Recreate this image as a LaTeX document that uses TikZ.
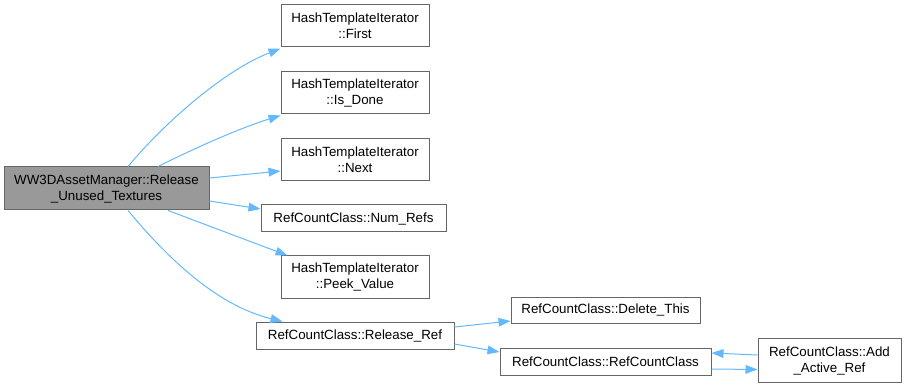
\documentclass[tikz,border=0pt]{standalone}
\usepackage{fontspec}
\setmainfont{Liberation Sans}
\usetikzlibrary{arrows.meta,calc}
\definecolor{edgeblue}{HTML}{63B8FF}
\definecolor{boxline}{HTML}{666666}
\definecolor{mainfill}{HTML}{999999}
\begin{document}
\begin{tikzpicture}[x=0.75pt,y=-0.75pt,
  fn/.style={draw=boxline,line width=0.75pt,fill=white,inner sep=0pt,align=center,
    font=\fontsize{10pt}{12pt}\selectfont},
  mainfn/.style={fn,fill=mainfill},
  call/.style={draw=edgeblue,line width=0.75pt,-{Triangle[length=9pt,width=6.5pt]},color=edgeblue}]
\useasboundingbox (0,0) rectangle (906,388);

% functions
\node[mainfn,minimum width=205*0.75pt,minimum height=43*0.75pt] (main) at (106.5,188.5)
  {WW3DAssetManager::Release\\\_Unused\_Textures};
\node[fn,minimum width=148*0.75pt,minimum height=42*0.75pt] (first) at (355,26)
  {HashTemplateIterator\\::First};
\node[fn,minimum width=148*0.75pt,minimum height=42*0.75pt] (isdone) at (355,93)
  {HashTemplateIterator\\::Is\_Done};
\node[fn,minimum width=148*0.75pt,minimum height=42*0.75pt] (next) at (355,160)
  {HashTemplateIterator\\::Next};
\node[fn,minimum width=185*0.75pt,minimum height=27*0.75pt] (numrefs) at (353.5,218.5)
  {RefCountClass::Num\_Refs};
\node[fn,minimum width=148*0.75pt,minimum height=42*0.75pt] (peek) at (355,277)
  {HashTemplateIterator\\::Peek\_Value};
\node[fn,minimum width=198*0.75pt,minimum height=27*0.75pt] (release) at (355,335.5)
  {RefCountClass::Release\_Ref};
\node[fn,minimum width=189*0.75pt,minimum height=26*0.75pt] (delete) at (605.5,310)
  {RefCountClass::Delete\_This};
\node[fn,minimum width=211*0.75pt,minimum height=27*0.75pt] (ctor) at (605.5,361.5)
  {RefCountClass::RefCountClass};
\node[fn,minimum width=143*0.75pt,minimum height=44*0.75pt] (addref) at (829.5,360.5)
  {RefCountClass::Add\\\_Active\_Ref};

% calls
\draw[call] ($(main.north)+(21.5,0)$) .. controls (165,122) and (225,70) .. ($(first.south west)+(0,1)$);
\draw[call] ($(main.north)+(51.5,0)$) .. controls (195,148) and (240,128) .. ($(isdone.south west)+(0,1)$);
\draw[call] ($(main.east)+(0,-10.5)$) -- ($(next.west)+(0,11)$);
\draw[call] ($(main.east)+(0,12.5)$) -- ($(numrefs.west)+(0,-9.5)$);
\draw[call] ($(main.south)+(61.5,0)$) -- ($(peek.north west)+(7,0)$);
\draw[call] ($(main.south)+(21.5,0)$) .. controls (165,255) and (215,305) .. ($(release.north west)+(27,0)$);
\draw[call] ($(release.east)+(0,-8.5)$) -- ($(delete.west)+(0,11)$);
\draw[call] ($(release.east)+(0,8.5)$) -- ($(ctor.west)+(0,-9.5)$);
\draw[call] ($(addref.west)+(0,-5.5)$) -- ($(ctor.east)+(0,-8.5)$);
\draw[call] ($(ctor.east)+(0,7.5)$) -- ($(addref.west)+(0,9)$);
\end{tikzpicture}
\end{document}
